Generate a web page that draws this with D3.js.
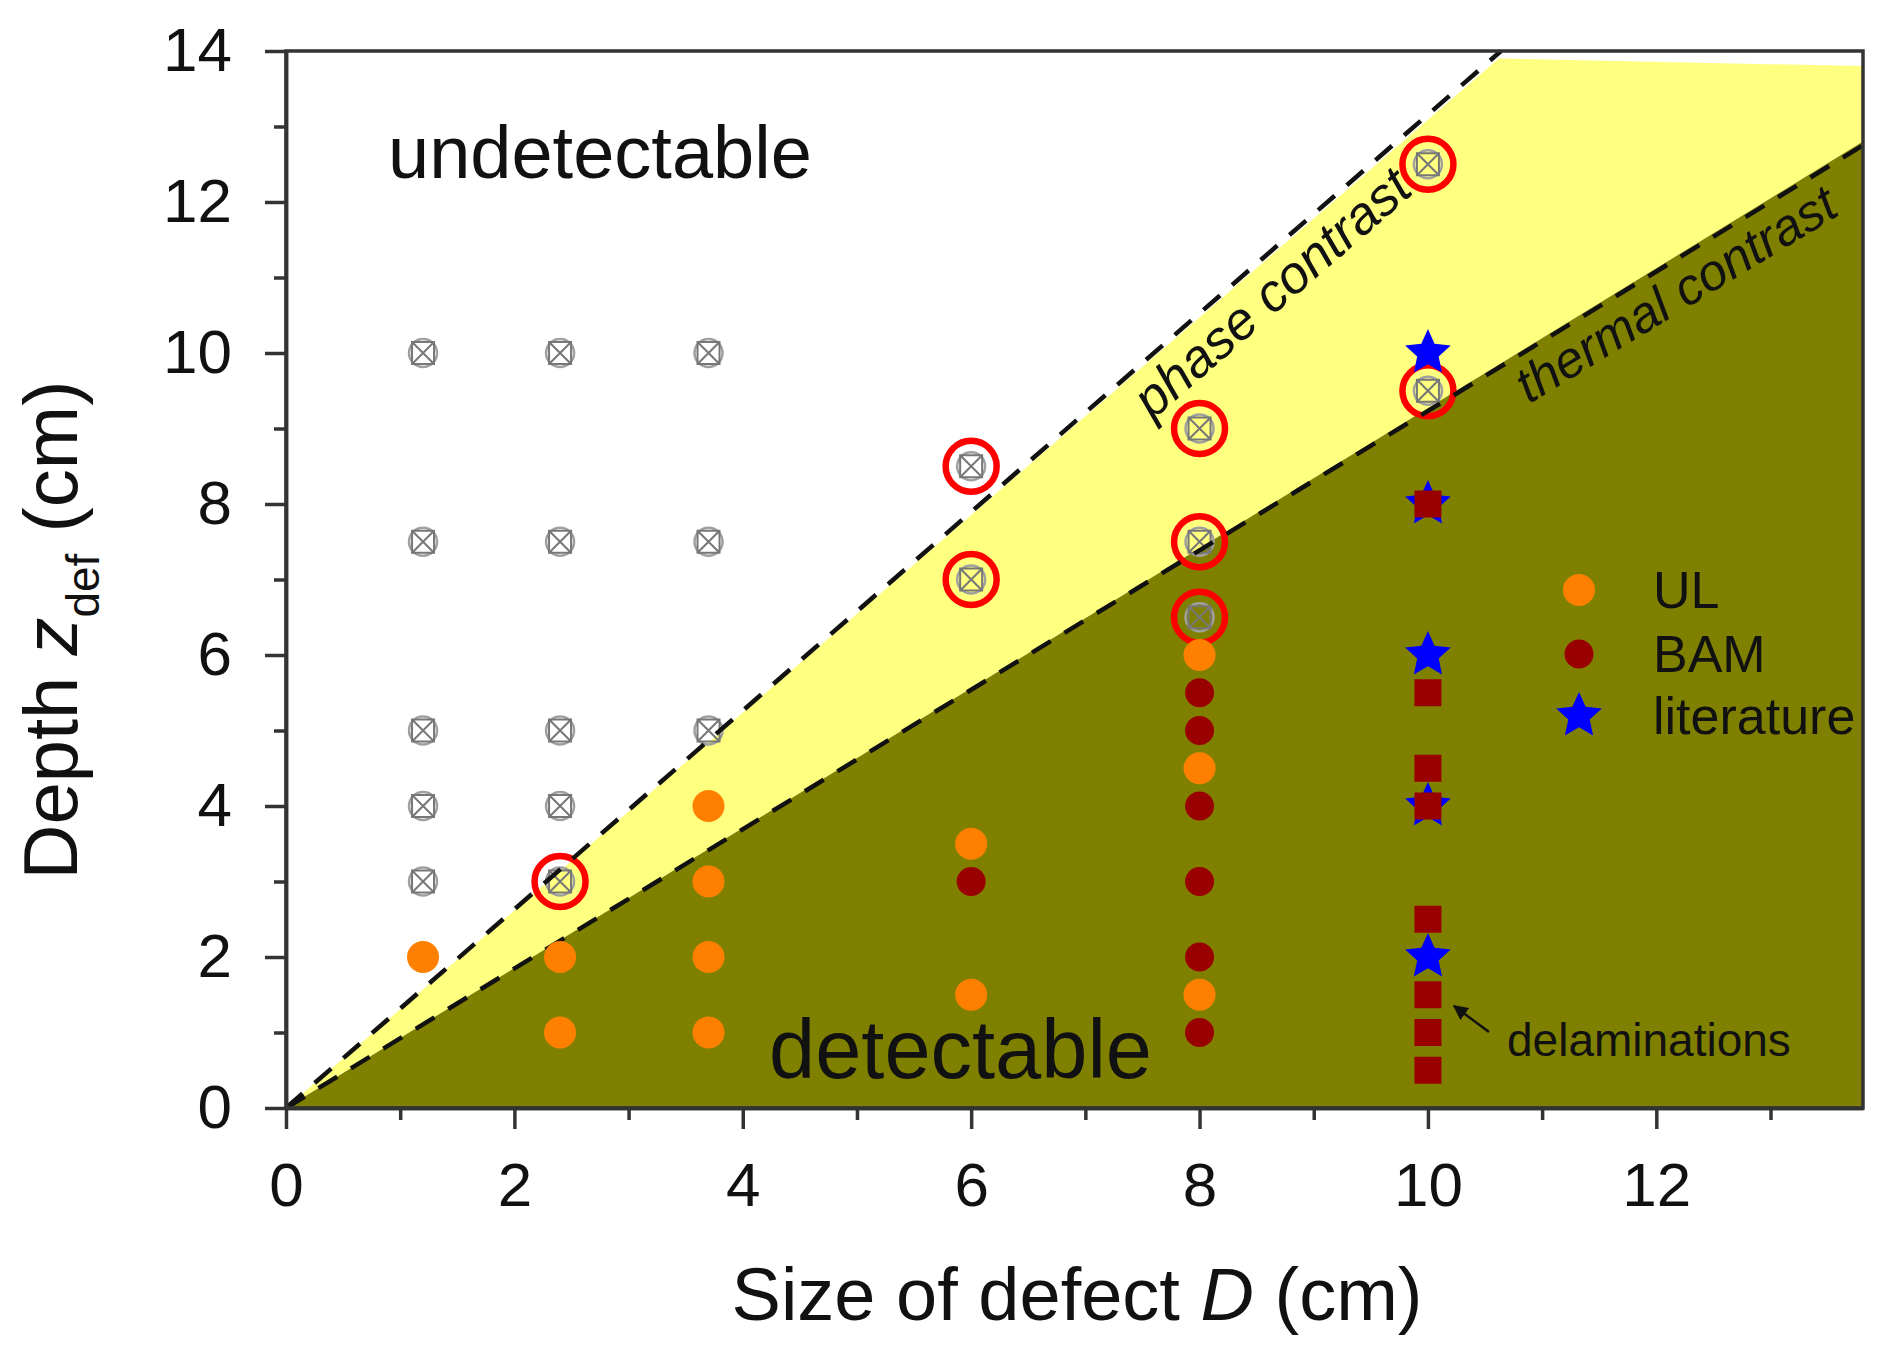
<!DOCTYPE html>
<html>
<head>
<meta charset="utf-8">
<script src="https://cdnjs.cloudflare.com/ajax/libs/d3/7.8.5/d3.min.js"></script>
<style>
body { margin: 0; background: #fff; }
svg { display: block; }
text { font-family: "Liberation Sans", Arial, Helvetica, sans-serif; fill: #111; }
</style>
</head>
<body>
<svg id="chart"></svg>
<script>
// ticks
var xTicks = [0, 2, 4, 6, 8, 10, 12];
var xMinor = [1, 3, 5, 7, 9, 11, 13];
var yTicks = [0, 2, 4, 6, 8, 10, 12, 14];
var yMinor = [1, 3, 5, 7, 9, 11, 13];

// defects [size D, depth z]
var undetected = [[1.2, 10], [1.2, 7.5], [1.2, 5], [1.2, 4], [1.2, 3],
                  [2.4, 10], [2.4, 7.5], [2.4, 5], [2.4, 4], [2.4, 3],
                  [3.7, 10], [3.7, 7.5], [3.7, 5],
                  [6, 8.5], [6, 7], [8, 9], [8, 7.5], [8, 6.5], [10, 12.5], [10, 9.5]];
var phaseFound = [[2.4, 3], [6, 8.5], [6, 7], [8, 9], [8, 7.5], [8, 6.5], [10, 12.5], [10, 9.5]];
var ulPoints = [[1.2, 2], [2.4, 2], [2.4, 1], [3.7, 4], [3.7, 3], [3.7, 2], [3.7, 1],
                [6, 3.5], [6, 1.5], [8, 6], [8, 4.5], [8, 1.5]];
var bamPoints = [[6, 3], [8, 5.5], [8, 5], [8, 4], [8, 3], [8, 2], [8, 1]];
var literature = [[10, 10], [10, 8], [10, 6], [10, 4], [10, 2]];
var delaminations = [[10, 8], [10, 5.5], [10, 4.5], [10, 4], [10, 2.5], [10, 1.5], [10, 1], [10, 0.5]];

// detection limits
var phaseLine = [[0, 0], [10.64, 14]];
var thermalLine = [[0, 0], [13.81, 12.75]];
var yellowZone = [[0, 0], [10.62, 13.9], [13.81, 13.8], [13.81, 12.8]];
var oliveZone = [[0, 0], [13.81, 12.8], [13.81, 0]];

var legendItems = ["UL", "BAM", "literature"];

var W = 1884, H = 1364;
var margin = {top: 51, left: 286};
var width = 1577, height = 1057;

var svg = d3.select("#chart").attr("width", W).attr("height", H);
var g = svg.append("g").attr("transform", "translate(" + margin.left + "," + margin.top + ")");

var x = d3.scaleLinear().domain([0, 13.81]).range([0, width]);
var y = d3.scaleLinear().domain([0, 14]).range([height, 0]);

var poly = d3.line().x(function (d) { return x(d[0]); }).y(function (d) { return y(d[1]); });

g.append("path").attr("d", poly(yellowZone) + "Z").attr("fill", "#ffff80");
g.append("path").attr("d", poly(oliveZone) + "Z").attr("fill", "#808000");

function star(R) {
    var r = R * 0.47, pts = [];
    for (var i = 0; i < 10; i++) {
        var a = -Math.PI / 2 + i * Math.PI / 5;
        var rr = i % 2 === 0 ? R : r;
        pts.push([rr * Math.cos(a), rr * Math.sin(a)]);
    }
    return "M" + pts.join("L") + "Z";
}

function crossMark(sel) {
    sel.append("circle").attr("r", 14).attr("fill", "none")
        .attr("stroke", "#a0a0a0").attr("stroke-width", 2.5);
    sel.append("rect").attr("x", -11).attr("y", -11).attr("width", 22).attr("height", 22)
        .attr("fill", "none").attr("stroke", "#777").attr("stroke-width", 2);
    sel.append("path").attr("d", "M-11,-11L11,11M11,-11L-11,11")
        .attr("stroke", "#777").attr("stroke-width", 2);
}

// not detected by thermal contrast
g.selectAll(".undet")
    .data(undetected)
    .enter().append("g")
    .attr("class", "undet")
    .attr("transform", function (d) { return "translate(" + x(d[0]) + "," + y(d[1]) + ")"; })
    .call(crossMark);

g.selectAll(".phase")
    .data(phaseFound)
    .enter().append("circle")
    .attr("class", "phase")
    .attr("cx", function (d) { return x(d[0]); })
    .attr("cy", function (d) { return y(d[1]); })
    .attr("r", 25.5)
    .attr("fill", "none")
    .attr("stroke", "#ff0000")
    .attr("stroke-width", 6.5);

[phaseLine, thermalLine].forEach(function (l) {
    g.append("path").attr("d", poly(l))
        .attr("fill", "none").attr("stroke", "#111")
        .attr("stroke-width", 4.5).attr("stroke-dasharray", "22,16");
});

g.selectAll(".ul")
    .data(ulPoints)
    .enter().append("circle")
    .attr("class", "ul")
    .attr("cx", function (d) { return x(d[0]); })
    .attr("cy", function (d) { return y(d[1]); })
    .attr("r", 16)
    .attr("fill", "#ff8000");

g.selectAll(".bam")
    .data(bamPoints)
    .enter().append("circle")
    .attr("class", "bam")
    .attr("cx", function (d) { return x(d[0]); })
    .attr("cy", function (d) { return y(d[1]); })
    .attr("r", 14.5)
    .attr("fill", "#990000");

g.selectAll(".lit")
    .data(literature)
    .enter().append("path")
    .attr("class", "lit")
    .attr("d", star(24))
    .attr("transform", function (d) { return "translate(" + x(d[0]) + "," + y(d[1]) + ")"; })
    .attr("fill", "#0000ff");

g.selectAll(".delam")
    .data(delaminations)
    .enter().append("rect")
    .attr("class", "delam")
    .attr("x", function (d) { return x(d[0]) - 13.5; })
    .attr("y", function (d) { return y(d[1]) - 13.5; })
    .attr("width", 27)
    .attr("height", 27)
    .attr("fill", "#990000");

// labels along the limit lines
function lineLabel(l, startX, offset, txt, size) {
    var dx = x(l[1][0]) - x(l[0][0]), dy = y(l[1][1]) - y(l[0][1]);
    var len = Math.sqrt(dx * dx + dy * dy), ux = dx / len, uy = dy / len;
    var slope = l[1][1] / l[1][0];
    var px = x(startX) - uy * offset, py = y(startX * slope) + ux * offset;
    var ang = Math.atan2(dy, dx) * 180 / Math.PI;
    g.append("text")
        .attr("transform", "translate(" + px + "," + py + ") rotate(" + ang + ")")
        .style("font-size", size + "px")
        .style("font-style", "italic")
        .text(txt);
}
lineLabel(phaseLine, 7.30, 50, "phase contrast", 53);
lineLabel(thermalLine, 10.67, 47, "thermal contrast", 51);

svg.append("text").attr("x", 388).attr("y", 178).style("font-size", "74px").text("undetectable");
svg.append("text").attr("x", 769).attr("y", 1078).style("font-size", "83px").text("detectable");

svg.append("text").attr("x", 1507).attr("y", 1056).style("font-size", "46px").text("delaminations");
svg.append("defs").append("marker")
    .attr("id", "arr").attr("viewBox", "0 0 10 10").attr("refX", 9).attr("refY", 5)
    .attr("markerWidth", 6).attr("markerHeight", 6).attr("orient", "auto")
    .append("path").attr("d", "M0,0L10,5L0,10Z").attr("fill", "#111");
svg.append("line").attr("x1", 1489).attr("y1", 1032).attr("x2", 1454).attr("y2", 1006)
    .attr("stroke", "#111").attr("stroke-width", 2.5).attr("marker-end", "url(#arr)");

// legend
var legY = [590, 654, 716];
var leg = svg.append("g");
leg.append("circle").attr("cx", 1579).attr("cy", legY[0]).attr("r", 16).attr("fill", "#ff8000");
leg.append("circle").attr("cx", 1579).attr("cy", legY[1]).attr("r", 14.5).attr("fill", "#990000");
leg.append("path").attr("d", star(24)).attr("transform", "translate(1579," + legY[2] + ")").attr("fill", "#0000ff");
leg.selectAll(".legtxt")
    .data(legendItems)
    .enter().append("text")
    .attr("x", 1653)
    .attr("y", function (d, i) { return legY[i] + 18; })
    .style("font-size", "52px")
    .text(function (d) { return d; });

// axes
function styleAxis(sel) {
    sel.select(".domain").attr("stroke", "#333").attr("stroke-width", 3.5);
    sel.selectAll(".tick line").attr("stroke", "#333").attr("stroke-width", 3.5);
    sel.selectAll(".tick text").style("font-size", "62px").attr("fill", "#111");
}

g.append("g").attr("transform", "translate(0," + height + ")")
    .call(d3.axisBottom(x).tickValues(xMinor).tickSize(12).tickSizeOuter(0).tickFormat(""))
    .call(styleAxis);
g.append("g").attr("transform", "translate(0," + height + ")")
    .call(d3.axisBottom(x).tickValues(xTicks).tickSize(21).tickSizeOuter(0).tickPadding(33))
    .call(styleAxis);
g.append("g")
    .call(d3.axisLeft(y).tickValues(yMinor).tickSize(12).tickSizeOuter(0).tickFormat(""))
    .call(styleAxis);
g.append("g")
    .call(d3.axisLeft(y).tickValues(yTicks).tickSize(21).tickSizeOuter(0).tickPadding(33))
    .call(styleAxis);

g.append("rect").attr("width", width).attr("height", height)
    .attr("fill", "none").attr("stroke", "#333").attr("stroke-width", 3.5);

// axis titles
var xt = svg.append("text").attr("x", 1077).attr("y", 1320)
    .attr("text-anchor", "middle").style("font-size", "74px");
xt.append("tspan").text("Size of defect ");
xt.append("tspan").style("font-style", "italic").text("D");
xt.append("tspan").text(" (cm)");

var yt = svg.append("text").attr("transform", "translate(77,630) rotate(-90)")
    .attr("text-anchor", "middle").style("font-size", "76px");
yt.append("tspan").text("Depth ");
yt.append("tspan").style("font-style", "italic").text("z");
yt.append("tspan").attr("dy", 22).style("font-size", "46px").text("def");
yt.append("tspan").attr("dy", -22).text(" (cm)");
</script>
</body>
</html>
